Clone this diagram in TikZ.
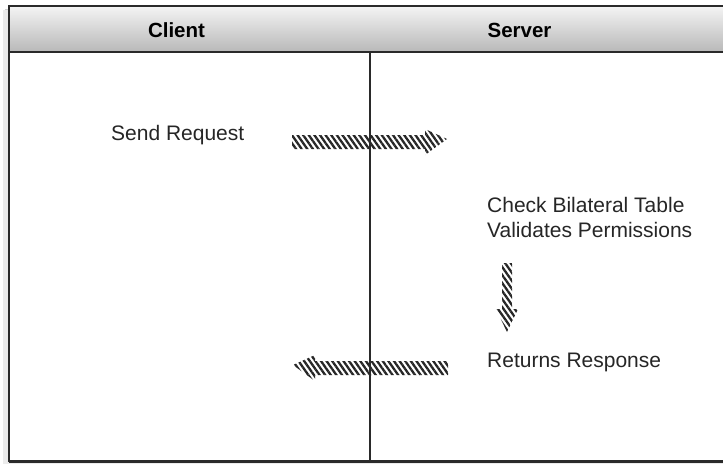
\documentclass[tikz,border=0pt]{standalone}
\usepackage{fontspec}
\setmainfont{Liberation Sans}
\usetikzlibrary{patterns.meta}
\definecolor{frameline}{HTML}{2A2A2A}
\definecolor{headtop}{HTML}{F4F4F4}
\definecolor{headbot}{HTML}{B8B8B8}
\tikzset{
  label text/.style={font=\fontsize{21}{25}\selectfont, text=black!85, inner sep=0pt, align=left},
  head text/.style={font=\fontsize{20.5}{25}\selectfont\bfseries, text=black, inner sep=0pt},
  hatched/.style={pattern={Lines[angle=-55,distance=4.6pt,line width=2.3pt]}, pattern color=black!85},
  frame/.style={draw=frameline, line width=2pt},
}
\begin{document}
\begin{tikzpicture}[x=1pt,y=-1pt]
\useasboundingbox (0,0) rectangle (723,464);
\fill[white] (0,0) rectangle (723,464);
% shadow
\fill[black!18] (5,9) rectangle (740,464);
\fill[black!8] (3,10) rectangle (738,464);
% header and body
\shade[top color=headtop, bottom color=headbot] (9,6) rectangle (740,52);
\fill[white] (9,52) rectangle (740,461);
\draw[frame] (9,6) rectangle (740,461);
\draw[frame] (9,52) -- (740,52);
\draw[frameline, line width=1pt] (9,462.5) -- (740,462.5);
% header labels
\node[head text] (client) at (176.5,30) {Client};
\node[head text] (server) at (519.5,30) {Server};
% texts
\node[label text, anchor=west] (send) at (111,135) {Send Request};
\node[label text, anchor=west] (check) at (487,217) {Check Bilateral Table\\Validates Permissions};
\node[label text, anchor=west] (ret) at (487,362) {Returns Response};
% arrow coordinates
\coordinate (r1) at (292,139);
\coordinate (r2) at (447,139);
\coordinate (d1) at (507,263);
\coordinate (d2) at (507,332);
\coordinate (l1) at (448,365);
\coordinate (l2) at (293,365);
% right arrow
\fill[hatched] (r1) ++(0,-4) -- ++(133,0) -- ++(0,-6) -- (r2) -- ++(-22,16) -- ++(0,-6) -- ++(-133,0) -- cycle;
% down arrow
\fill[hatched] (d1) ++(-5,0) -- ++(0,46) -- ++(-6,0) -- (d2) -- ++(11,-23) -- ++(-6,0) -- ++(0,-46) -- cycle;
% left arrow
\fill[hatched] (l1) ++(0,-4) -- ++(-133,0) -- ++(0,-6) -- (l2) -- ++(22,16) -- ++(0,-6) -- ++(133,0) -- cycle;
% divider
\draw[frameline, line width=1.6pt] (370,52) -- (370,461);
\end{tikzpicture}
\end{document}
